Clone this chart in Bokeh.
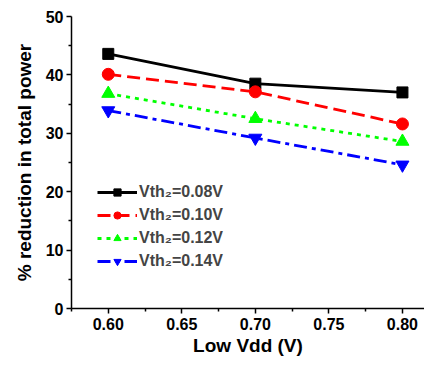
from bokeh.plotting import figure
from bokeh.models import Legend, LegendItem, FixedTicker, NumeralTickFormatter
from bokeh.embed import file_html
from bokeh.resources import INLINE

vdd = [0.60, 0.70, 0.80]
s008 = [43.6, 38.5, 37.0]
s010 = [40.1, 37.1, 31.6]
s012 = [36.8, 32.5, 28.6]
s014 = [33.9, 29.2, 24.6]
labels = ["Vth\u2082=0.08V", "Vth\u2082=0.10V", "Vth\u2082=0.12V", "Vth\u2082=0.14V"]
x_ticks = [0.60, 0.65, 0.70, 0.75, 0.80]
y_ticks = [0, 10, 20, 30, 40, 50]

FONT = "Liberation Sans"

p = figure(width=424, height=358, output_backend="svg", toolbar_location=None,
           x_range=(0.575, 0.815), y_range=(0, 50),
           min_border_left=71, min_border_right=0, min_border_top=16, min_border_bottom=47)
p.outline_line_color = None
p.grid.visible = False
p.background_fill_color = "white"

r1l = p.line(vdd, s008, color="black", line_width=2.8)
r1m = p.scatter(vdd, s008, marker="square", size=11, color="black")
r2l = p.line(vdd, s010, color="red", line_width=2.8, line_dash="13 6")
r2m = p.scatter(vdd, s010, marker="circle", size=12, color="red")
r3l = p.line(vdd, s012, color="#00ff00", line_width=2.8, line_dash="4 5")
r3m = p.scatter(vdd, s012, marker="triangle", size=13, color="#00ff00")
r4l = p.line(vdd, s014, color="blue", line_width=2.8, line_dash="13 5 4 5")
r4m = p.scatter(vdd, s014, marker="inverted_triangle", size=13, color="blue")

for ax in (p.xaxis[0], p.yaxis[0]):
    ax.axis_line_width = 1.5
    ax.major_tick_line_width = 1.5
    ax.minor_tick_line_width = 1.5
    ax.major_tick_in = 0
    ax.major_tick_out = 5
    ax.minor_tick_in = 0
    ax.minor_tick_out = 3
    ax.major_label_text_font = FONT
    ax.major_label_text_font_style = "bold"
    ax.major_label_text_font_size = "16px"
    ax.major_label_text_color = "black"
    ax.axis_label_text_font = FONT
    ax.axis_label_text_font_style = "bold"
    ax.axis_label_text_font_size = "19px"
    ax.axis_label_text_color = "black"

p.xaxis.ticker = FixedTicker(ticks=x_ticks, minor_ticks=[0.575, 0.625, 0.675, 0.725, 0.775])
p.xaxis.formatter = NumeralTickFormatter(format="0.00")
p.yaxis.ticker = FixedTicker(ticks=y_ticks, minor_ticks=[5, 15, 25, 35, 45])
p.xaxis.axis_label = "Low Vdd (V)"
p.yaxis.axis_label = "% reduction in total power"
p.xaxis.major_label_standoff = 4
p.yaxis.major_label_standoff = 3
p.xaxis.axis_label_standoff = 2
p.yaxis.axis_label_standoff = 8

legend = Legend(items=[
    LegendItem(label=labels[0], renderers=[r1l, r1m]),
    LegendItem(label=labels[1], renderers=[r2l, r2m]),
    LegendItem(label=labels[2], renderers=[r3l, r3m]),
    LegendItem(label=labels[3], renderers=[r4l, r4m]),
], location=(26, 38), glyph_width=40, glyph_height=18, spacing=5,
   label_text_font=FONT, label_text_font_style="bold", label_text_font_size="16px",
   label_standoff=2, border_line_color=None, background_fill_alpha=0,
   padding=2, margin=0)
p.add_layout(legend, "center")

open("out.html", "w").write(file_html(p, INLINE))
